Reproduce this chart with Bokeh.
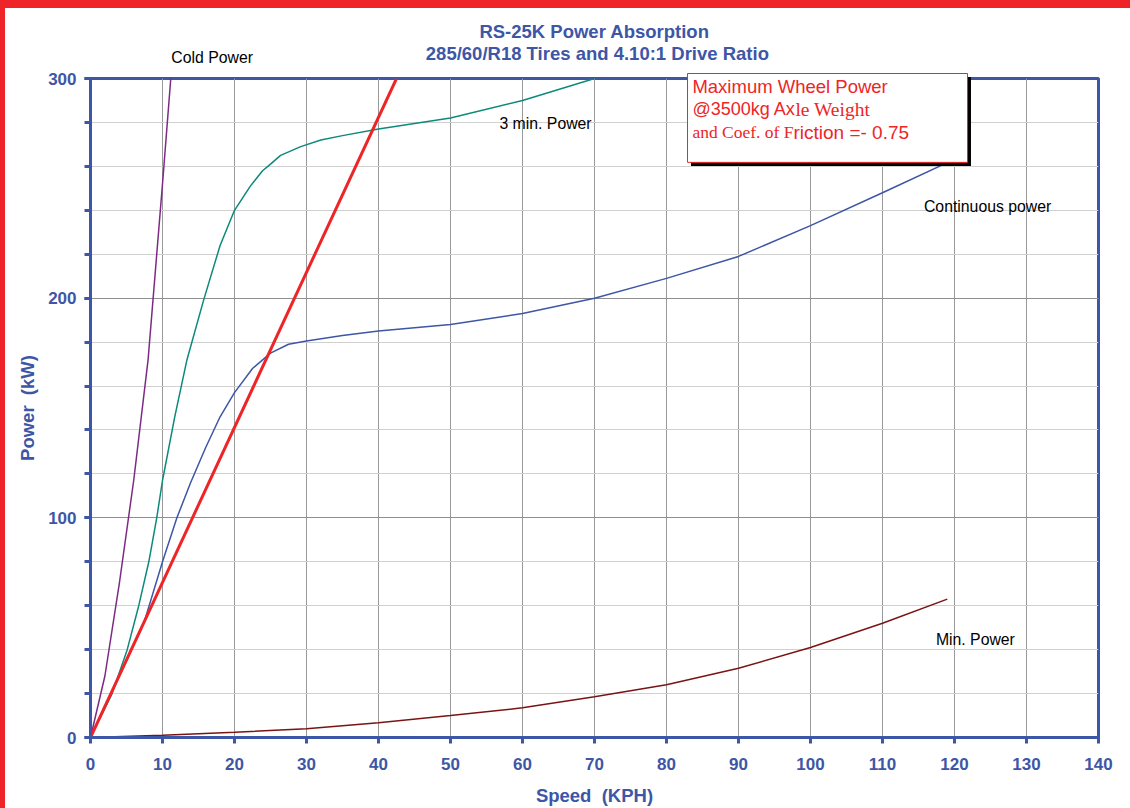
from bokeh.plotting import figure
from bokeh.models import Range1d, SingleIntervalTicker, Title, Div
from bokeh.layouts import column, row
from bokeh.core.properties import value
from bokeh.embed import file_html
from bokeh.resources import INLINE

# ---------------- data ----------------
title_line1 = "RS-25K Power Absorption"
title_line2 = "285/60/R18 Tires and 4.10:1 Drive Ratio"
x_label = "Speed \u00a0(KPH)"
y_label = "Power \u00a0(kW)"

cold_speed = [0, 2, 4, 6, 8, 10, 11.15]
cold_power = [0, 28, 70, 117, 172, 252, 300]

three_min_speed = [0, 3, 5.1, 6.7, 8.1, 9.2, 10, 11.7, 13.4, 15.7, 18, 20, 22.2, 23.9, 25, 26.4, 29.2, 32, 35, 40, 50, 60, 70]
three_min_power = [0, 20, 40, 60, 80, 100, 117, 146, 172, 199, 224, 240, 251, 258, 261, 265, 269, 272, 274, 277, 282, 290, 300]

continuous_speed = [0, 5, 7.5, 10, 12, 13.9, 16, 18, 20, 22.5, 25, 27.5, 30, 35, 40, 50, 60, 70, 80, 90, 100, 110, 120.5]
continuous_power = [0, 35, 53, 80, 100, 116, 132, 146, 157, 168, 175, 179, 180.5, 183, 185, 188, 193, 200, 209, 219, 233, 248, 264]

min_speed = [0, 10, 20, 30, 40, 50, 60, 70, 80, 90, 100, 110, 119]
min_power = [0, 1, 2.4, 4, 6.7, 10, 13.5, 18.5, 24, 31.5, 41, 52, 63]

max_wheel_speed = [0, 42.5]
max_wheel_power = [0, 300]

series_names = ["Cold Power", "3 min. Power", "Continuous power", "Min. Power"]
box_lines = ["Maximum Wheel Power", "@3500kg Ax", "le Weight", "and Coef. of F", "riction =- 0.75"]

# ---------------- layout / styling ----------------
BLUE = "#3D56A6"
RED = "#EE2526"
BAND = "#EE2429"
SANS = "Liberation Sans"
SERIF = "Liberation Serif"

p = figure(width=1125, height=800, output_backend="svg", toolbar_location=None,
           x_range=Range1d(0, 140), y_range=Range1d(0, 300),
           min_border_left=85, min_border_right=32, min_border_top=70, min_border_bottom=70,
           background_fill_color="white", border_fill_color="white")

# empty row that reserves the space of the second title line (drawn below as text)
p.add_layout(Title(text="\u00a0", align="center", text_font=SANS, text_font_size="18.5px",
                   text_font_style="bold", standoff=14), "above")
# main title line (real Title object)
p.add_layout(Title(text=title_line1, align="center", offset=3, text_color=BLUE,
                   text_font=SANS, text_font_size="18.5px", text_font_style="bold", standoff=0), "above")

p.outline_line_color = BLUE
p.outline_line_width = 3

p.xaxis.ticker = SingleIntervalTicker(interval=10, num_minor_ticks=0)
p.yaxis.ticker = SingleIntervalTicker(interval=100, num_minor_ticks=5)
for ax in (p.xaxis, p.yaxis):
    ax.axis_line_color = BLUE
    ax.axis_line_width = 3
    ax.major_tick_line_color = BLUE
    ax.major_tick_line_width = 3
    ax.major_tick_out = 6
    ax.major_tick_in = 0
    ax.minor_tick_line_color = BLUE
    ax.minor_tick_line_width = 3
    ax.minor_tick_out = 6
    ax.minor_tick_in = 0
    ax.major_label_text_color = BLUE
    ax.major_label_text_font = SANS
    ax.major_label_text_font_style = "bold"
    ax.major_label_text_font_size = "17px"
    ax.axis_label_text_color = BLUE
    ax.axis_label_text_font = SANS
    ax.axis_label_text_font_style = "bold"
    ax.axis_label_text_font_size = "18.5px"
p.xaxis.axis_label = x_label
p.yaxis.axis_label = y_label
p.xaxis.major_label_standoff = 14
p.xaxis.axis_label_standoff = 12
p.yaxis.major_label_standoff = 8
p.yaxis.axis_label_standoff = 7

p.xgrid.ticker = p.xaxis.ticker
p.xgrid.grid_line_color = "#999999"
p.xgrid.grid_line_width = 1
p.ygrid.ticker = p.yaxis.ticker
p.ygrid.grid_line_color = "#8f8f8f"
p.ygrid.grid_line_width = 1
p.ygrid.minor_grid_line_color = "#d0d0d0"
p.ygrid.minor_grid_line_width = 1

# series
p.line(min_speed, min_power, line_color="#7A1414", line_width=1.5)
p.line(continuous_speed, continuous_power, line_color=BLUE, line_width=1.5)
p.line(three_min_speed, three_min_power, line_color="#0B8A7C", line_width=1.5)
p.line(cold_speed, cold_power, line_color="#7D2A84", line_width=1.5)
p.line(max_wheel_speed, max_wheel_power, line_color=RED, line_width=3)

# second title line, drawn just above the frame
p.text(x=[70.4], y=[311.4], text=[title_line2], text_align="center", text_baseline="middle",
       text_font=value(SANS), text_font_size="18.5px", text_font_style="bold", text_color=BLUE,
       level="overlay")

# series labels (overlay level so that they may sit outside the frame)
label_x = [16.9, 63.2, 124.6, 122.9]
label_y = [309.5, 279.5, 241.8, 44.5]
p.text(x=label_x, y=label_y, text=series_names, text_align="center", text_baseline="middle",
       text_font=value(SANS), text_font_size="15.8px", text_color="black", level="overlay")

# annotation box with drop shadow
box_l, box_r, box_t, box_b = 82.92, 121.81, 302.27, 261.82
sh_dx, sh_dy = 0.48, 1.6
p.quad(left=[box_l + sh_dx], right=[box_r + sh_dx], top=[box_t - sh_dy], bottom=[box_b - sh_dy],
       fill_color="black", line_color=None, level="overlay")
p.quad(left=[box_l], right=[box_r], top=[box_t], bottom=[box_b],
       fill_color="white", line_color=RED, line_width=1, level="overlay")

bx = 83.6
line_y = [296.4, 285.9, 275.5]
p.text(x=[bx], y=[line_y[0]], text=[box_lines[0]], text_align="left", text_baseline="middle",
       text_font=value(SANS), text_font_size="18.5px", text_color=RED, level="overlay")
p.text(x=[bx], y=[line_y[1]], text=[box_lines[1]], text_align="left", text_baseline="middle",
       text_font=value(SANS), text_font_size="18px", text_color=RED, level="overlay")
p.text(x=[bx], y=[line_y[1]], x_offset=103, text=[box_lines[2]], text_align="left", text_baseline="middle",
       text_font=value(SERIF), text_font_size="19.5px", text_color=RED, level="overlay")
p.text(x=[bx], y=[line_y[2]], text=[box_lines[3]], text_align="left", text_baseline="middle",
       text_font=value(SERIF), text_font_size="17.5px", text_color=RED, level="overlay")
p.text(x=[bx], y=[line_y[2]], x_offset=101, text=[box_lines[4]], text_align="left", text_baseline="middle",
       text_font=value(SANS), text_font_size="19px", text_color=RED, level="overlay")

# red page border (top and left bands)
top_band = Div(text="", width=1130, height=8, margin=0, styles={"background-color": BAND})
left_band = Div(text="", width=5, height=800, margin=0, styles={"background-color": BAND})
layout = column(top_band, row(left_band, p, spacing=0), spacing=0)

open("out.html", "w").write(file_html(layout, INLINE))
